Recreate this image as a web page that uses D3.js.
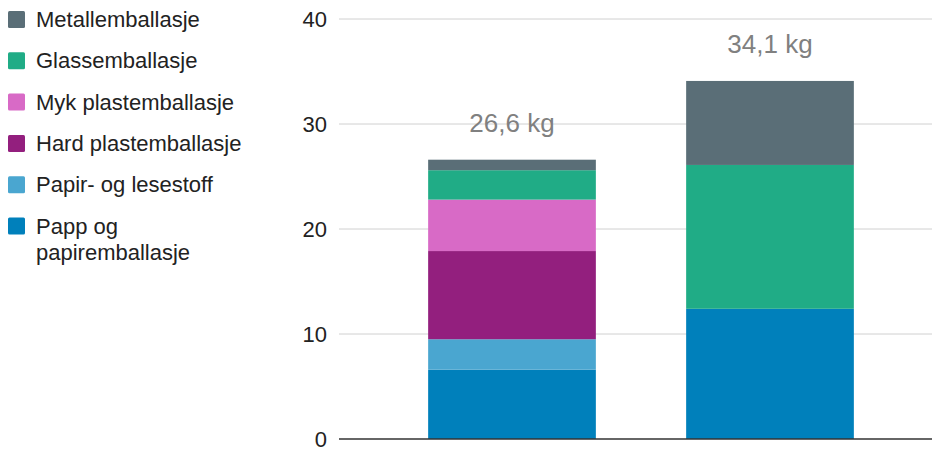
<!DOCTYPE html>
<html>
<head>
<meta charset="utf-8">
<script src="https://cdn.jsdelivr.net/npm/d3@7"></script>
<style>
	body { margin: 0; background: #fff; }
	text { font-family: "Liberation Sans", Arial, sans-serif; }
</style>
</head>
<body>
<div id="chart"></div>
<script>
// bars (no visible category labels in the original)
var categories = ["bar1", "bar2"];
var totalLabels = ["26,6 kg", "34,1 kg"];

// series, bottom to top in the stack
var seriesNames = ["Papp og papiremballasje", "Papir- og lesestoff", "Hard plastemballasje",
	"Myk plastemballasje", "Glassemballasje", "Metallemballasje"];
var pappValues = [6.6, 12.4];
var papirValues = [2.9, 0];
var hardPlastValues = [8.4, 0];
var mykPlastValues = [4.9, 0];
var glassValues = [2.8, 13.7];
var metallValues = [1.0, 8.0];

var yTicks = [0, 10, 20, 30, 40];

var colors = ["#0080bb", "#4aa6d0", "#931f7e", "#d86ac6", "#20ac86", "#5a6e77"];

var width = 932, height = 450;

var svg = d3.select("#chart").append("svg")
	.attr("width", width)
	.attr("height", height);

var rows = categories.map(function (c, i) {
	return {
		cat: c,
		s0: pappValues[i], s1: papirValues[i], s2: hardPlastValues[i],
		s3: mykPlastValues[i], s4: glassValues[i], s5: metallValues[i]
	};
});
var keys = ["s0", "s1", "s2", "s3", "s4", "s5"];
var stacked = d3.stack().keys(keys)(rows);

var y = d3.scaleLinear().domain([0, 40]).range([439, 19]);
var x = d3.scaleBand().domain(categories).range([383, 899])
	.paddingInner(0.35).paddingOuter(0.175);

// grid
svg.append("g").selectAll("line").data(yTicks.slice(1)).enter().append("line")
	.attr("x1", 339).attr("x2", 932)
	.attr("y1", function (d) { return y(d); })
	.attr("y2", function (d) { return y(d); })
	.attr("stroke", "#d0d0d0").attr("stroke-width", 1);

// y axis labels
var yAxis = d3.axisLeft(y).tickValues(yTicks).tickSize(0).tickPadding(0);
var yg = svg.append("g").attr("transform", "translate(327,0)").call(yAxis)
	.attr("font-size", 22).attr("font-family", "Liberation Sans, Arial, sans-serif");
yg.select(".domain").remove();
yg.selectAll("text").attr("fill", "#222");

// bars
var layers = svg.append("g").selectAll("g").data(stacked).enter().append("g")
	.attr("fill", function (d, i) { return colors[i]; });

layers.selectAll("rect").data(function (d) { return d; }).enter().append("rect")
	.filter(function (d) { return d[1] - d[0] > 0; })
	.attr("x", function (d) { return x(d.data.cat); })
	.attr("width", x.bandwidth())
	.attr("y", function (d) { return y(d[1]); })
	.attr("height", function (d) { return y(d[0]) - y(d[1]); });

// baseline
svg.append("line")
	.attr("x1", 339).attr("x2", 932)
	.attr("y1", y(0)).attr("y2", y(0))
	.attr("stroke", "#333").attr("stroke-width", 1.3);

// totals
var topLayer = stacked[stacked.length - 1];
svg.append("g").selectAll("text").data(categories).enter().append("text")
	.attr("x", function (d) { return x(d) + x.bandwidth() / 2; })
	.attr("y", function (d, i) { return y(topLayer[i][1]) - 28; })
	.attr("text-anchor", "middle")
	.attr("font-size", 26)
	.attr("fill", "#808080")
	.text(function (d, i) { return totalLabels[i]; });

// legend, top to bottom
var legendItems = [
	{ name: ["Metallemballasje"], color: colors[5] },
	{ name: ["Glassemballasje"], color: colors[4] },
	{ name: ["Myk plastemballasje"], color: colors[3] },
	{ name: ["Hard plastemballasje"], color: colors[2] },
	{ name: ["Papir- og lesestoff"], color: colors[1] },
	{ name: ["Papp og", "papiremballasje"], color: colors[0] }
];

var legend = svg.append("g").selectAll("g").data(legendItems).enter().append("g")
	.attr("transform", function (d, i) { return "translate(8," + (19 + i * 41.3) + ")"; });

legend.append("rect")
	.attr("x", 0).attr("y", -8).attr("width", 17).attr("height", 17)
	.attr("rx", 1.5)
	.attr("fill", function (d) { return d.color; });

legend.append("text")
	.attr("x", 28)
	.attr("y", 8)
	.attr("font-size", 22)
	.attr("fill", "#222")
	.selectAll("tspan").data(function (d) { return d.name; }).enter().append("tspan")
	.attr("x", 28)
	.attr("dy", function (d, i) { return i === 0 ? 0 : 26; })
	.text(function (d) { return d; });
</script>
</body>
</html>
